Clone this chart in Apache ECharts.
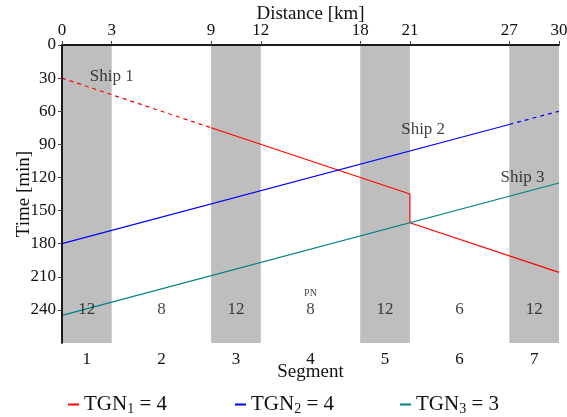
<!DOCTYPE html>
<html>
<head>
<meta charset="utf-8">
<script src="https://cdn.jsdelivr.net/npm/echarts@6/dist/echarts.min.js"></script>
<style>
  html, body { margin: 0; padding: 0; background: #fff; }
  #chart { width: 567px; height: 417px; }
</style>
</head>
<body>
<div id="chart"></div>
<script>
// Distance axis (km) and its labelled ticks
const distanceTicks = [0, 3, 9, 12, 18, 21, 27, 30];
// Segment boundaries along the route (km)
const segmentBounds = [0, 3, 9, 12, 18, 21, 27, 30];
const segmentNames = ['1', '2', '3', '4', '5', '6', '7'];
const segmentCounts = [12, 8, 12, 8, 12, 6, 12];
// Shaded segments
const grayBands = [[0, 3], [9, 12], [18, 21], [27, 30]];
// Time axis (min)
const timeTicks = [0, 30, 60, 90, 120, 150, 180, 210, 240];
const timeMax = 270;

// Ship trajectories [distance km, time min]
const ship1Dashed = [[0, 30], [9, 75]];
const ship1Solid = [[9, 75], [21, 135], [21, 161], [30, 206]];
const ship2Solid = [[0, 180], [27, 72]];
const ship2Dashed = [[27, 72], [30, 60]];
const ship3Solid = [[0, 245], [30, 125]];

const shipLabels = [
  { text: 'Ship 1', at: [3, 29] },
  { text: 'Ship 2', at: [21.8, 77] },
  { text: 'Ship 3', at: [27.8, 120] }
];
const noteLabel = { text: 'PN', at: [15, 225] };
const countRowTime = 240;

const legendNames = ['TGN1', 'TGN2', 'TGN3'];
const legendSubs = ['1', '2', '3'];
const legendValues = [4, 4, 3];

const RED = '#ff0000', BLUE = '#0000ff', TEAL = '#008080';
const FONT = 'Liberation Serif';
const INK = '#111';

const segmentCenters = segmentNames.map((_, i) => (segmentBounds[i] + segmentBounds[i + 1]) / 2);

function lineSeries(name, data, color, dashed) {
  return {
    name: name, type: 'line', data: data, xAxisIndex: 0, yAxisIndex: 0,
    symbol: 'none', silent: true, z: 3,
    lineStyle: { color: color, width: 1.2, type: dashed ? [4, 4] : 'solid' },
    itemStyle: { color: color }
  };
}

function legendFor(i, left) {
  return {
    left: left, top: 394, padding: 0, selectedMode: false,
    icon: 'rect', itemWidth: 11, itemHeight: 2, itemGap: 0,
    data: [legendNames[i]],
    formatter: () => '{b|TGN}{s|' + legendSubs[i] + '}{b| = ' + legendValues[i] + '}',
    textStyle: {
      fontFamily: FONT, color: INK,
      rich: {
        b: { fontFamily: FONT, fontSize: 21, color: INK },
        s: { fontFamily: FONT, fontSize: 14, color: INK, padding: [10, 0, 0, 0] }
      }
    }
  };
}

const chart = echarts.init(document.getElementById('chart'), null, { renderer: 'canvas' });

chart.setOption({
  animation: false,
  backgroundColor: '#fff',
  grid: { left: 62, right: 8, top: 45, bottom: 74, outerBoundsMode: 'none', containLabel: false },
  legend: [legendFor(0, 68), legendFor(1, 235), legendFor(2, 400)],
  xAxis: [
    {
      type: 'value', position: 'top', min: 0, max: 30, interval: 3, z: 10,
      name: 'Distance [km]', nameLocation: 'middle', nameGap: 21, nameMoveOverlap: false,
      nameTextStyle: { fontFamily: FONT, fontSize: 19, color: INK },
      axisLine: { show: true, lineStyle: { color: '#444', width: 1.5 } },
      axisTick: { show: true, inside: false, length: 4, customValues: distanceTicks, lineStyle: { color: '#444' } },
      axisLabel: { customValues: distanceTicks, margin: 6, fontFamily: FONT, fontSize: 17, color: INK },
      splitLine: { show: false }
    },
    {
      type: 'value', position: 'bottom', min: 0, max: 30, interval: 3, z: 10,
      name: 'Segment', nameLocation: 'middle', nameGap: 20, nameMoveOverlap: false,
      nameTextStyle: { fontFamily: FONT, fontSize: 19, color: INK },
      axisLine: { show: true, lineStyle: { color: '#000', width: 1.5 } },
      axisTick: { show: false },
      axisLabel: {
        customValues: segmentCenters, margin: 8, fontFamily: FONT, fontSize: 17, color: INK,
        formatter: v => segmentNames[segmentCenters.indexOf(v)]
      },
      splitLine: { show: false }
    }
  ],
  yAxis: [
    {
      type: 'value', inverse: true, min: 0, max: timeMax, interval: 30, z: 10,
      name: 'Time [min]', nameLocation: 'middle', nameGap: 28, nameRotate: 90, nameMoveOverlap: false,
      nameTextStyle: { fontFamily: FONT, fontSize: 19, color: INK },
      axisLine: { show: true, lineStyle: { color: '#444', width: 1.5 } },
      axisTick: { show: true, inside: false, length: 4, customValues: timeTicks, lineStyle: { color: '#444' } },
      axisLabel: { customValues: timeTicks, margin: 6, fontFamily: FONT, fontSize: 17, color: INK },
      splitLine: { show: false }
    },
    {
      type: 'value', position: 'right', inverse: true, min: 0, max: timeMax, z: 10,
      axisLine: { show: true, lineStyle: { color: '#000', width: 1.5 } },
      axisTick: { show: false }, axisLabel: { show: false }, splitLine: { show: false }
    }
  ],
  series: [
    {
      // shaded segments plus the per-segment counts
      type: 'scatter', xAxisIndex: 0, yAxisIndex: 0, symbolSize: 0, silent: true, z: 4,
      data: segmentCenters.map((c, i) => ({ value: [c, countRowTime], count: segmentCounts[i] })),
      label: {
        show: true, position: 'inside', fontFamily: FONT, fontSize: 17, color: INK,
        formatter: p => String(p.data.count)
      },
      markArea: {
        silent: true, z: 1,
        itemStyle: { color: '#bebebe', opacity: 1 },
        data: grayBands.map(b => [{ xAxis: b[0] }, { xAxis: b[1] }])
      }
    },
    {
      type: 'scatter', xAxisIndex: 0, yAxisIndex: 0, symbolSize: 0, silent: true, z: 4,
      data: shipLabels.map(s => ({ value: s.at, text: s.text })),
      label: {
        show: true, position: 'inside', fontFamily: FONT, fontSize: 17, color: INK,
        formatter: p => p.data.text
      }
    },
    {
      type: 'scatter', xAxisIndex: 0, yAxisIndex: 0, symbolSize: 0, silent: true, z: 4,
      data: [{ value: noteLabel.at, text: noteLabel.text }],
      label: {
        show: true, position: 'inside', fontFamily: FONT, fontSize: 10, color: INK,
        formatter: p => p.data.text
      }
    },
    lineSeries(legendNames[0], ship1Dashed, RED, true),
    lineSeries(legendNames[0], ship1Solid, RED, false),
    lineSeries(legendNames[1], ship2Solid, BLUE, false),
    lineSeries(legendNames[1], ship2Dashed, BLUE, true),
    lineSeries(legendNames[2], ship3Solid, TEAL, false)
  ]
});
</script>
</body>
</html>
